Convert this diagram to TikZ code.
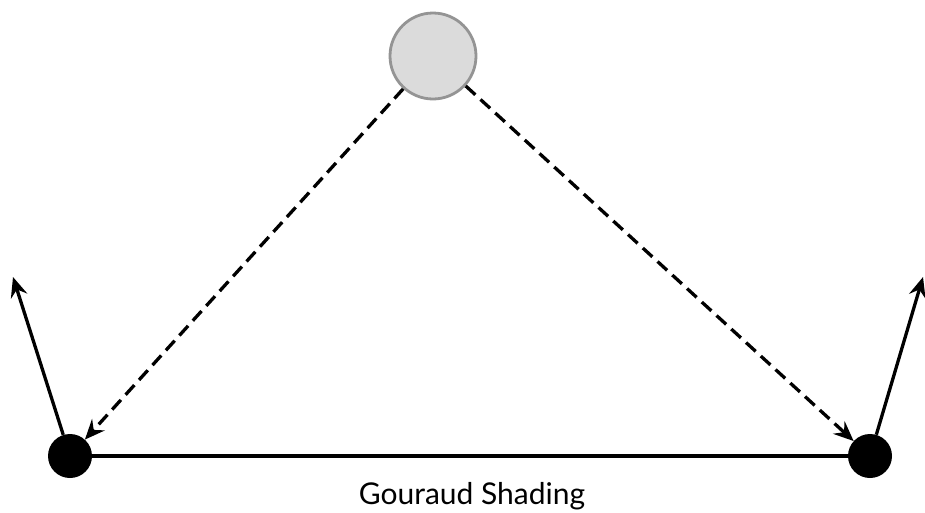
\documentclass[tikz,border=0pt]{standalone}
\usepackage{fontspec}
\setmainfont{Lato}
\usetikzlibrary{arrows.meta}
\begin{document}
\begin{tikzpicture}[x=1pt,y=-1pt,
  vdot/.style={circle,fill=black,inner sep=0pt,minimum size=44pt},
  light/.style={circle,fill=black!14,draw=black!42,line width=2.8pt,inner sep=0pt,minimum size=86pt},
  conn/.style={line width=3.3pt},
  ray/.style={line width=3.3pt,dash pattern=on 13pt off 7pt,-{Stealth[length=20pt,width=17pt,inset=7pt]}},
  normal/.style={line width=3.3pt,-{Stealth[length=20pt,width=17pt,inset=7pt]}}]
\useasboundingbox (0,0) rectangle (925,512);
\node[light] (L) at (433,56) {};
\node[vdot] (A) at (70,456) {};
\node[vdot] (B) at (870,456) {};
\coordinate (NA) at (13,277);
\coordinate (NB) at (923,277);
\draw[conn] (A) -- (B);
\draw[normal] (A) -- (NA);
\draw[normal] (B) -- (NB);
\draw[ray] (L) -- (A);
\draw[ray] (L) -- (B);
\node[font=\fontsize{30}{34}\selectfont,anchor=base] (T) at (472,504) {Gouraud Shading};
\end{tikzpicture}
\end{document}
